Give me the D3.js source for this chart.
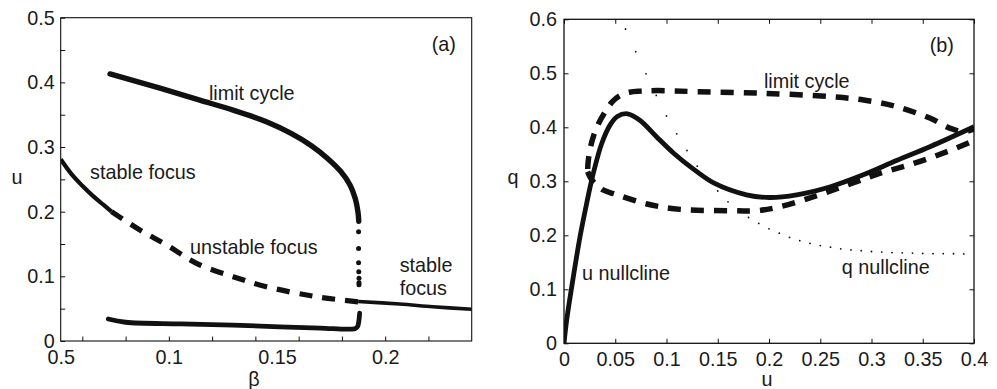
<!DOCTYPE html>
<html>
<head>
<meta charset="utf-8">
<script src="https://cdn.jsdelivr.net/npm/d3@7"></script>
<style>
  html, body { margin: 0; padding: 0; background: #fff; }
  svg { display: block; }
  text { font-family: "Liberation Sans", Arial, Helvetica, sans-serif; fill: #1a1a1a; }
</style>
</head>
<body>
<svg id="chart" width="997" height="389"></svg>
<script>
// ---------------- Panel (a) data: bifurcation diagram u vs beta ----------------
const betaStableLeft  = [0.05, 0.055, 0.06, 0.065, 0.07, 0.0735];
const uStableLeft     = [0.281, 0.258, 0.240, 0.224, 0.210, 0.200];

const betaUnstable    = [0.0735, 0.0866, 0.099, 0.1128, 0.1297, 0.1451, 0.1682, 0.1875];
const uUnstable       = [0.200, 0.1717, 0.1485, 0.120, 0.0995, 0.084, 0.0685, 0.0605];

const betaStableRight = [0.1875, 0.2067, 0.2221, 0.24];
const uStableRight    = [0.0612, 0.0572, 0.053, 0.049];

const betaCycleUpper  = [0.0728, 0.0959, 0.1143, 0.1297, 0.1451, 0.1565, 0.1659, 0.1735, 0.1795, 0.1838, 0.1862, 0.1874, 0.1878];
const uCycleUpper     = [0.413, 0.391, 0.3725, 0.357, 0.339, 0.321, 0.302, 0.282, 0.262, 0.241, 0.220, 0.200, 0.185];

const betaCycleDots   = [0.1877, 0.1877, 0.1877, 0.1878, 0.1879, 0.1879, 0.1879];
const uCycleDots      = [0.169, 0.143, 0.121, 0.107, 0.097, 0.090, 0.087];

const betaCycleLower  = [0.072, 0.08, 0.1055, 0.1296, 0.1513, 0.17, 0.186, 0.1872, 0.1878, 0.1882];
const uCycleLower     = [0.034, 0.029, 0.0265, 0.0245, 0.022, 0.020, 0.019, 0.022, 0.030, 0.043];

const aYTicks      = [0, 0.05, 0.1, 0.15, 0.2, 0.25, 0.3, 0.35, 0.4, 0.45, 0.5];
const aYLabels     = [0, 0.1, 0.2, 0.3, 0.4, 0.5];
const aXTicks      = [0.06, 0.08, 0.10, 0.12, 0.14, 0.16, 0.18, 0.20, 0.22];
const aXLabelVals  = [0.05, 0.1, 0.15, 0.2];
const aXLabelTexts = ["0.5", "0.1", "0.15", "0.2"];

// ---------------- Panel (b) data: phase plane q vs u ----------------
const uNullU = [0, 0.0026, 0.0091, 0.0156, 0.0221, 0.0286, 0.0368, 0.0449, 0.052, 0.062, 0.074, 0.09, 0.107, 0.126, 0.146, 0.178, 0.201, 0.227, 0.26, 0.292, 0.325, 0.357, 0.4];
const uNullQ = [0, 0.043, 0.123, 0.197, 0.259, 0.315, 0.370, 0.404, 0.420, 0.425, 0.413, 0.383, 0.352, 0.323, 0.297, 0.275, 0.270, 0.275, 0.290, 0.312, 0.339, 0.364, 0.401];

const qNullU = [0.06, 0.07, 0.08, 0.09, 0.10, 0.11, 0.12, 0.13, 0.14, 0.15, 0.16, 0.17, 0.18, 0.19, 0.20, 0.21, 0.22, 0.23, 0.24, 0.25, 0.26, 0.27, 0.28, 0.29, 0.30, 0.31, 0.32, 0.33, 0.34, 0.35, 0.36, 0.37, 0.38, 0.39];
const qNullQ = [0.582, 0.540, 0.499, 0.459, 0.421, 0.388, 0.357, 0.328, 0.303, 0.282, 0.262, 0.246, 0.233, 0.222, 0.212, 0.204, 0.196, 0.190, 0.185, 0.181, 0.178, 0.175, 0.173, 0.1715, 0.170, 0.169, 0.168, 0.1675, 0.167, 0.1665, 0.166, 0.166, 0.1658, 0.1656];

const cycleU = [0.023, 0.027, 0.032, 0.038, 0.0485, 0.081, 0.1135, 0.162, 0.188, 0.211, 0.2436, 0.2761, 0.3086, 0.3412, 0.3737, 0.401, 0.415, 0.405, 0.39, 0.377, 0.3574, 0.3249, 0.2924, 0.2598, 0.1948, 0.1298, 0.0907, 0.075, 0.064, 0.055, 0.047, 0.040, 0.034, 0.029, 0.0255, 0.0235, 0.023];
const cycleQ = [0.318, 0.303, 0.293, 0.284, 0.277, 0.258, 0.248, 0.2456, 0.2456, 0.253, 0.2715, 0.293, 0.315, 0.333, 0.355, 0.3765, 0.39, 0.398, 0.392, 0.398, 0.4166, 0.438, 0.4505, 0.4567, 0.463, 0.466, 0.468, 0.467, 0.465, 0.459, 0.447, 0.428, 0.408, 0.385, 0.36, 0.335, 0.318];

const bXTicks = [0, 0.05, 0.1, 0.15, 0.2, 0.25, 0.3, 0.35, 0.4];
const bYTicks = [0, 0.1, 0.2, 0.3, 0.4, 0.5, 0.6];

// ---------------- drawing ----------------
const svg = d3.select("#chart");
const FS = 19.8;
const zip = (a, b) => a.map((v, i) => [v, b[i]]);

function fmt(v) { return v === 0 ? "0" : String(+v.toFixed(2)); }

// ===== Panel (a) =====
const ax = d3.scaleLinear([0.05, 0.24], [60.7, 471.7]);
const ay = d3.scaleLinear([0, 0.5], [341, 17.7]);
const ga = svg.append("g");

ga.append("clipPath").attr("id", "clipA").append("rect")
  .attr("x", ax.range()[0]).attr("y", ay.range()[1])
  .attr("width", ax.range()[1] - ax.range()[0]).attr("height", ay.range()[0] - ay.range()[1]);

const lineA = d3.line().x(d => ax(d[0])).y(d => ay(d[1])).curve(d3.curveCatmullRom.alpha(0.5));
const plotA = ga.append("g").attr("clip-path", "url(#clipA)");

plotA.append("path").datum(zip(betaStableLeft, uStableLeft)).attr("d", lineA)
  .attr("fill", "none").attr("stroke", "#111").attr("stroke-width", 4.2).attr("stroke-linecap", "butt");
plotA.append("path").datum(zip(betaUnstable, uUnstable)).attr("d", lineA)
  .attr("fill", "none").attr("stroke", "#111").attr("stroke-width", 5.2).attr("stroke-dasharray", "13,10");
plotA.append("path").datum(zip(betaStableRight, uStableRight)).attr("d", lineA)
  .attr("fill", "none").attr("stroke", "#111").attr("stroke-width", 3.6);
plotA.append("path").datum(zip(betaCycleUpper, uCycleUpper)).attr("d", lineA)
  .attr("fill", "none").attr("stroke", "#111").attr("stroke-width", 5.4).attr("stroke-linecap", "round");
plotA.append("path").datum(zip(betaCycleLower, uCycleLower)).attr("d", lineA)
  .attr("fill", "none").attr("stroke", "#111").attr("stroke-width", 4.8).attr("stroke-linecap", "round");
plotA.selectAll("circle.dot").data(zip(betaCycleDots, uCycleDots)).join("circle")
  .attr("class", "dot").attr("cx", d => ax(d[0])).attr("cy", d => ay(d[1])).attr("r", 2.5).attr("fill", "#111");

// box
ga.append("rect").attr("x", ax.range()[0]).attr("y", ay.range()[1])
  .attr("width", ax.range()[1] - ax.range()[0]).attr("height", ay.range()[0] - ay.range()[1])
  .attr("fill", "none").attr("stroke", "#111").attr("stroke-width", 1.1);

// axes
const aBottomTicks = ga.append("g").attr("transform", `translate(0,${ay.range()[0]})`)
  .call(d3.axisBottom(ax).tickValues(aXTicks).tickSizeInner(-4.5).tickSizeOuter(0).tickFormat(""));
const aBottomLabels = ga.append("g").attr("transform", `translate(0,${ay.range()[0]})`)
  .call(d3.axisBottom(ax).tickValues(aXLabelVals).tickSize(0).tickPadding(9)
    .tickFormat((d, i) => aXLabelTexts[i]));
const aLeft = ga.append("g").attr("transform", `translate(${ax.range()[0]},0)`)
  .call(d3.axisLeft(ay).tickValues(aYTicks).tickSizeInner(-4.5).tickSizeOuter(0).tickPadding(6)
    .tickFormat(d => aYLabels.some(v => Math.abs(v - d) < 1e-9) ? fmt(d) : ""));
[aBottomTicks, aBottomLabels, aLeft].forEach(g => {
  g.select(".domain").remove();
  g.selectAll("line").attr("stroke", "#111");
  g.selectAll("text").attr("font-size", FS).attr("font-family", null).attr("fill", "#1a1a1a");
});

// annotations
const annA = [
  { t: "limit cycle",    x: 0.1185, y: 0.373 },
  { t: "stable focus",   x: 0.0636, y: 0.2498 },
  { t: "unstable focus", x: 0.1098, y: 0.1338 },
  { t: "stable",         x: 0.2067, y: 0.106 },
  { t: "focus",          x: 0.2067, y: 0.0704 },
  { t: "(a)",            x: 0.2215, y: 0.4485 }
];
ga.selectAll("text.ann").data(annA).join("text").attr("class", "ann")
  .attr("x", d => ax(d.x)).attr("y", d => ay(d.y)).attr("font-size", FS).text(d => d.t);

ga.append("text").attr("x", 17).attr("y", 177).attr("dy", "0.35em").attr("text-anchor", "middle")
  .attr("font-size", FS).text("u");
ga.append("text").attr("x", 254).attr("y", 379).attr("dy", "0.35em").attr("text-anchor", "middle")
  .attr("font-size", FS).text("β");

// ===== Panel (b) =====
const bx = d3.scaleLinear([0, 0.4], [564, 974]);
const by = d3.scaleLinear([0, 0.6], [343.3, 19.3]);
const gb = svg.append("g");

gb.append("clipPath").attr("id", "clipB").append("rect")
  .attr("x", bx.range()[0]).attr("y", by.range()[1])
  .attr("width", bx.range()[1] - bx.range()[0]).attr("height", by.range()[0] - by.range()[1]);
const plotB = gb.append("g").attr("clip-path", "url(#clipB)");
const lineB = d3.line().x(d => bx(d[0])).y(d => by(d[1])).curve(d3.curveCatmullRom.alpha(0.5));

plotB.selectAll("circle.q").data(zip(qNullU, qNullQ)).join("circle").attr("class", "q")
  .attr("cx", d => bx(d[0])).attr("cy", d => by(d[1])).attr("r", 0.9).attr("fill", "#111");
plotB.append("path").datum(zip(cycleU, cycleQ)).attr("d", lineB)
  .attr("fill", "none").attr("stroke", "#111").attr("stroke-width", 5.5).attr("stroke-dasharray", "13,10");
plotB.append("path").datum(zip(uNullU, uNullQ)).attr("d", lineB)
  .attr("fill", "none").attr("stroke", "#111").attr("stroke-width", 4.8);

gb.append("rect").attr("x", bx.range()[0]).attr("y", by.range()[1])
  .attr("width", bx.range()[1] - bx.range()[0]).attr("height", by.range()[0] - by.range()[1])
  .attr("fill", "none").attr("stroke", "#111").attr("stroke-width", 1.3);

const bBottom = gb.append("g").attr("transform", `translate(0,${by.range()[0]})`)
  .call(d3.axisBottom(bx).tickValues(bXTicks).tickSizeInner(-4.5).tickSizeOuter(0).tickPadding(9).tickFormat(fmt));
const bTop = gb.append("g").attr("transform", `translate(0,${by.range()[1]})`)
  .call(d3.axisTop(bx).tickValues(bXTicks).tickSizeInner(-4.5).tickSizeOuter(0).tickFormat(""));
const bLeft = gb.append("g").attr("transform", `translate(${bx.range()[0]},0)`)
  .call(d3.axisLeft(by).tickValues(bYTicks).tickSizeInner(-4.5).tickSizeOuter(0).tickPadding(7).tickFormat(fmt));
const bRight = gb.append("g").attr("transform", `translate(${bx.range()[1]},0)`)
  .call(d3.axisRight(by).tickValues(bYTicks).tickSizeInner(-4.5).tickSizeOuter(0).tickFormat(""));
[bBottom, bTop, bLeft, bRight].forEach(g => {
  g.select(".domain").remove();
  g.selectAll("line").attr("stroke", "#111");
  g.selectAll("text").attr("font-size", FS).attr("font-family", null).attr("fill", "#1a1a1a");
});

const annB = [
  { t: "limit cycle", x: 0.195,  y: 0.472 },
  { t: "u nullcline", x: 0.0176, y: 0.118 },
  { t: "q nullcline", x: 0.271,  y: 0.129 },
  { t: "(b)",         x: 0.3568, y: 0.540 }
];
gb.selectAll("text.ann").data(annB).join("text").attr("class", "ann")
  .attr("x", d => bx(d.x)).attr("y", d => by(d.y)).attr("font-size", FS).text(d => d.t);

gb.append("text").attr("x", 513).attr("y", 177).attr("dy", "0.35em").attr("text-anchor", "middle")
  .attr("font-size", FS).text("q");
gb.append("text").attr("x", 767).attr("y", 379).attr("dy", "0.35em").attr("text-anchor", "middle")
  .attr("font-size", FS).text("u");
</script>
</body>
</html>
